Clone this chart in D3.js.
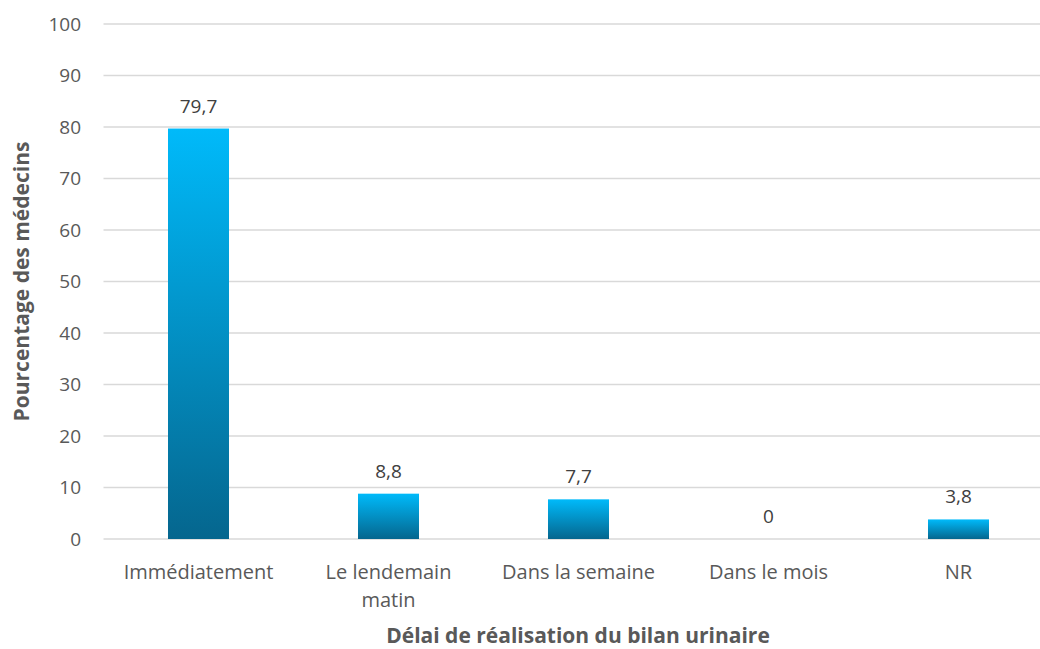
<!DOCTYPE html>
<html lang="fr">
<head>
  <meta charset="UTF-8" />
  <title>Délai de réalisation du bilan urinaire</title>
  <style>
    body { margin: 0; background: #fff; }
    svg text { font-family: "Open Sans", "Liberation Sans", sans-serif; }
  </style>
  <script src="https://d3js.org/d3.v7.min.js"></script>
</head>
<body>
  <div id="chart"></div>
  <script>
    var w = 1040;
    var h = 649;

    // data
    var categories = [["Immédiatement"], ["Le lendemain", "matin"], ["Dans la semaine"], ["Dans le mois"], ["NR"]];
    var values = [79.7, 8.8, 7.7, 0, 3.8];
    var labels = ["79,7", "8,8", "7,7", "0", "3,8"];
    var yTicks = [0, 10, 20, 30, 40, 50, 60, 70, 80, 90, 100];

    // the plot area runs a little past the right edge of the picture
    var plotLeft = 103.5, plotRight = 1053.5, plotTop = 24, plotBottom = 539;

    var svg = d3.select("#chart").append("svg")
      .attr("width", w)
      .attr("height", h);

    var grad = svg.append("defs").append("linearGradient")
      .attr("id", "barGrad")
      .attr("x1", 0).attr("y1", 0).attr("x2", 0).attr("y2", 1);
    grad.append("stop").attr("offset", "0%").attr("stop-color", "#00bafa");
    grad.append("stop").attr("offset", "100%").attr("stop-color", "#05668e");

    var x = d3.scaleBand()
      .domain(d3.range(categories.length))
      .range([plotLeft, plotRight])
      .paddingInner(0.679)
      .paddingOuter(0.3395);

    var y = d3.scaleLinear()
      .domain([0, 100])
      .range([plotBottom, plotTop]);

    // gridlines
    svg.selectAll("line.grid")
      .data(yTicks)
      .enter()
      .append("line")
      .attr("class", "grid")
      .attr("x1", plotLeft)
      .attr("x2", w)
      .attr("y1", function(d) { return y(d); })
      .attr("y2", function(d) { return y(d); })
      .attr("stroke", "#d9d9d9")
      .attr("stroke-width", 1.5);

    // y tick labels
    svg.selectAll("text.ytick")
      .data(yTicks)
      .enter()
      .append("text")
      .attr("class", "ytick")
      .attr("x", 81)
      .attr("y", function(d) { return y(d); })
      .attr("dy", "0.36em")
      .attr("text-anchor", "end")
      .attr("fill", "#595959")
      .style("font-size", "19px")
      .text(function(d) { return d; });

    // bars
    svg.selectAll("rect.bar")
      .data(values)
      .enter()
      .append("rect")
      .attr("class", "bar")
      .attr("x", function(d, i) { return x(i); })
      .attr("y", function(d) { return y(d); })
      .attr("width", x.bandwidth())
      .attr("height", function(d) { return plotBottom - y(d); })
      .attr("fill", "url(#barGrad)");

    // value labels
    svg.selectAll("text.val")
      .data(values)
      .enter()
      .append("text")
      .attr("class", "val")
      .attr("x", function(d, i) { return x(i) + x.bandwidth() / 2; })
      .attr("y", function(d) { return y(d) - 16; })
      .attr("text-anchor", "middle")
      .attr("fill", "#404040")
      .style("font-size", "19px")
      .text(function(d, i) { return labels[i]; });

    // category labels
    var cat = svg.selectAll("text.cat")
      .data(categories)
      .enter()
      .append("text")
      .attr("class", "cat")
      .attr("x", function(d, i) { return x(i) + x.bandwidth() / 2; })
      .attr("y", 579)
      .attr("text-anchor", "middle")
      .attr("fill", "#595959")
      .style("font-size", "20px");

    cat.selectAll("tspan")
      .data(function(d) { return d; })
      .enter()
      .append("tspan")
      .attr("x", function() { return d3.select(this.parentNode).attr("x"); })
      .attr("dy", function(d, i) { return i === 0 ? 0 : 28; })
      .text(function(d) { return d; });

    // axis titles
    svg.append("text")
      .attr("x", 578)
      .attr("y", 643)
      .attr("text-anchor", "middle")
      .attr("fill", "#595959")
      .style("font-size", "21px")
      .style("font-weight", "bold")
      .text("Délai de réalisation du bilan urinaire");

    svg.append("text")
      .attr("transform", "translate(29," + ((plotTop + plotBottom) / 2) + ") rotate(-90)")
      .attr("text-anchor", "middle")
      .attr("fill", "#595959")
      .style("font-size", "21px")
      .style("font-weight", "bold")
      .text("Pourcentage des médecins");
  </script>
</body>
</html>
